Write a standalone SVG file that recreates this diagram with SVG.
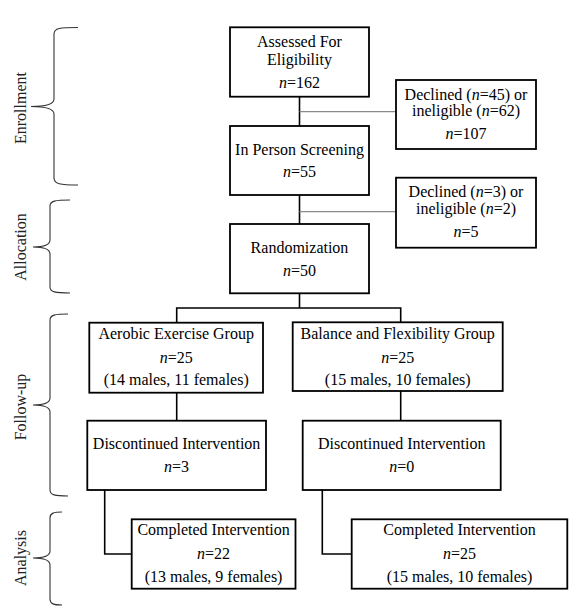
<svg xmlns="http://www.w3.org/2000/svg" width="583" height="614" viewBox="0 0 583 614" font-family="'Liberation Serif', 'Times New Roman', Tinos, serif">
<style>
  .box { fill: #fff; stroke: #000; stroke-width: 1.8; }
  .t { font-size: 16px; fill: #000; text-anchor: middle; }
  .lab { font-size: 16px; fill: #222; text-anchor: middle; }
  .ln { fill: none; stroke: #000; stroke-width: 1.6; }
  .gl { fill: none; stroke: #8a8a8a; stroke-width: 1.3; }
  .br { fill: none; stroke: #333; stroke-width: 1.1; }
</style>
<rect width="583" height="614" fill="#fff"/>

<g id="braces">
  <path class="br" d="M78,27.5 C60,27.5 54,28 54,34 L54,99 C54,104 48,106.5 31,106.5 C48,106.5 54,109 54,114 L54,178 C54,184 60,185 78,185"/>
  <path class="br" d="M70,200 C55,200 50,201 50,206 L50,240 C50,245 45,247 33,247 C45,247 50,249 50,254 L50,287 C50,292 55,293 70,293"/>
  <path class="br" d="M68,314 C55,314 50,315 50,320 L50,398 C50,403 45,405 33,405 C45,405 50,407 50,412 L50,490 C50,495 55,496 68,496"/>
  <path class="br" d="M62,512 C54,512 50,513 50,518 L50,551 C50,556 45,558 33,558 C45,558 50,560 50,565 L50,599 C50,604 54,605 62,605"/>
  <text class="lab" transform="translate(26,108) rotate(-90)">Enrollment</text>
  <text class="lab" transform="translate(26,247) rotate(-90)">Allocation</text>
  <text class="lab" transform="translate(26,407) rotate(-90)">Follow-up</text>
  <text class="lab" transform="translate(26,558) rotate(-90)">Analysis</text>
</g>

<g id="connectors">
  <path class="ln" d="M299.5,96.7 V126"/>
  <path class="gl" d="M299.5,111.7 H396"/>
  <path class="ln" d="M299.5,195 V224"/>
  <path class="gl" d="M299.5,211.7 H396"/>
  <path class="ln" d="M299.5,293.3 V308"/>
  <path class="ln" d="M176.7,322.7 V308 H400.7 V322.3"/>
  <path class="ln" d="M176.7,392.7 V420.7"/>
  <path class="ln" d="M400.7,391 V420.7"/>
  <path class="ln" d="M104.7,490 V554 H131.7"/>
  <path class="ln" d="M322.3,490 V554 H351.7"/>
</g>

<g id="assessed">
  <rect class="box" x="230" y="27.3" width="139" height="69.4"/>
  <text class="t" x="299.5" y="47">Assessed For</text>
  <text class="t" x="299.5" y="64.5">Eligibility</text>
  <text class="t" x="299.5" y="88"><tspan font-style="italic">n</tspan>=162</text>
</g>

<g id="declined1">
  <rect class="box" x="396" y="80" width="140" height="69"/>
  <text class="t" x="466" y="99.5">Declined (<tspan font-style="italic">n</tspan>=45) or</text>
  <text class="t" x="466" y="116">ineligible (<tspan font-style="italic">n</tspan>=62)</text>
  <text class="t" x="466" y="139"><tspan font-style="italic">n</tspan>=107</text>
</g>

<g id="screening">
  <rect class="box" x="230" y="126" width="139" height="69"/>
  <text class="t" x="299.5" y="155">In Person Screening</text>
  <text class="t" x="299.5" y="177"><tspan font-style="italic">n</tspan>=55</text>
</g>

<g id="declined2">
  <rect class="box" x="396" y="177.7" width="140" height="70"/>
  <text class="t" x="466" y="197">Declined (<tspan font-style="italic">n</tspan>=3) or</text>
  <text class="t" x="466" y="213.5">ineligible (<tspan font-style="italic">n</tspan>=2)</text>
  <text class="t" x="466" y="237"><tspan font-style="italic">n</tspan>=5</text>
</g>

<g id="randomization">
  <rect class="box" x="230" y="224" width="139" height="69.3"/>
  <text class="t" x="299.5" y="252.5">Randomization</text>
  <text class="t" x="299.5" y="276"><tspan font-style="italic">n</tspan>=50</text>
</g>

<g id="aerobic">
  <rect class="box" x="89.3" y="322.7" width="173.7" height="70"/>
  <text class="t" x="176.2" y="338.5">Aerobic Exercise Group</text>
  <text class="t" x="176.2" y="362.7"><tspan font-style="italic">n</tspan>=25</text>
  <text class="t" x="176.2" y="385">(14 males, 11 females)</text>
</g>

<g id="balance">
  <rect class="box" x="292.7" y="322.3" width="210" height="68.7"/>
  <text class="t" x="397.7" y="338.5">Balance and Flexibility Group</text>
  <text class="t" x="397.7" y="362.7"><tspan font-style="italic">n</tspan>=25</text>
  <text class="t" x="397.7" y="385">(15 males, 10 females)</text>
</g>

<g id="discontinued1">
  <rect class="box" x="87.3" y="420.7" width="178.7" height="69.3"/>
  <text class="t" x="176.6" y="448.5">Discontinued Intervention</text>
  <text class="t" x="176.6" y="472"><tspan font-style="italic">n</tspan>=3</text>
</g>

<g id="discontinued2">
  <rect class="box" x="302.7" y="420.7" width="198" height="69.3"/>
  <text class="t" x="401.7" y="448.5">Discontinued Intervention</text>
  <text class="t" x="401.7" y="472"><tspan font-style="italic">n</tspan>=0</text>
</g>

<g id="completed1">
  <rect class="box" x="131.7" y="519.3" width="163.8" height="69.4"/>
  <text class="t" x="213.6" y="535">Completed Intervention</text>
  <text class="t" x="213.6" y="558.7"><tspan font-style="italic">n</tspan>=22</text>
  <text class="t" x="213.6" y="581.7">(13 males, 9 females)</text>
</g>

<g id="completed2">
  <rect class="box" x="351.7" y="519.3" width="215.6" height="69.4"/>
  <text class="t" x="459.5" y="535">Completed Intervention</text>
  <text class="t" x="459.5" y="558.7"><tspan font-style="italic">n</tspan>=25</text>
  <text class="t" x="459.5" y="581.7">(15 males, 10 females)</text>
</g>
</svg>
